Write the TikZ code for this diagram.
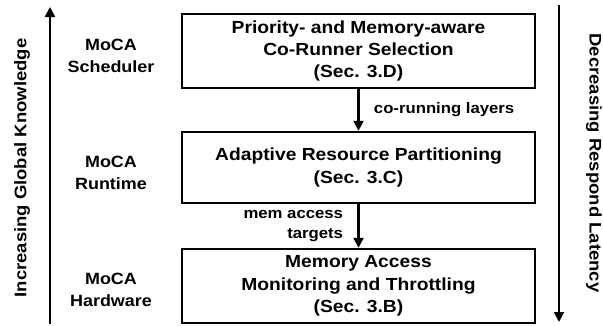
\documentclass[tikz,border=0pt]{standalone}
\usepackage{fontspec}
\setmainfont[FakeStretch=1.1]{Liberation Sans}
\usepackage{tikz}
\usetikzlibrary{positioning, arrows.meta}

\begin{document}
\begin{tikzpicture}[
    x=1pt, y=1pt,
    font=\bfseries\fontsize{17.5}{22.3}\selectfont,
    >={Triangle[length=10pt, width=10pt]},
    % Styles
    stage/.style={rectangle, draw=black, line width=2.4pt, minimum width=353pt, align=center, inner sep=0pt},
    layer_label/.style={align=center, font=\bfseries\fontsize{16.3}{22}\selectfont},
    flow/.style={->, line width=2.3pt},
    side_arrow/.style={->, line width=2.3pt},
    side_label/.style={font=\bfseries\fontsize{16.8}{20}\selectfont},
    edge_label/.style={font=\bfseries\fontsize{15.2}{20}\selectfont, align=right}
]
    \useasboundingbox (0,0) rectangle (603,325);

    % 1. THE THREE STAGES
    \node[stage, minimum height=74pt] (sched) at (358.5, 274) {Priority- and Memory-aware\\Co-Runner Selection\\(Sec. 3.D)};
    \node[stage, minimum height=71pt] (runtime) at (358.5, 157.5) {Adaptive Resource Partitioning\\(Sec. 3.C)};
    \node[stage, minimum height=74pt] (hw) at (358.5, 39) {Memory Access\\Monitoring and Throttling\\(Sec. 3.B)};

    % 2. LAYER NAMES
    \node[layer_label] (schedname) at (111, 269) {MoCA\\Scheduler};
    \node[layer_label] (runtimename) at (111, 152) {MoCA\\Runtime};
    \node[layer_label] (hwname) at (111, 35) {MoCA\\Hardware};

    % 3. FLOW BETWEEN STAGES
    \draw[flow] (sched) -- (runtime) node[midway, right=11pt, edge_label] (corun) {co-running layers};
    \draw[flow] (runtime) -- (hw) node[midway, left=11pt, edge_label] (memtgt) {mem access\\targets};

    % 4. SIDE AXES
    \coordinate (kbot) at (50, 1);
    \coordinate (ktop) at (50, 318);
    \draw[side_arrow] (kbot) -- (ktop);
    \node[side_label, rotate=90] (know) at (22, 157) {Increasing Global Knowledge};

    \coordinate (ltop) at (559, 320);
    \coordinate (lbot) at (559, 3);
    \draw[side_arrow] (ltop) -- (lbot);
    \node[side_label, rotate=-90] (lat) at (594, 162) {Decreasing Respond Latency};

\end{tikzpicture}
\end{document}
